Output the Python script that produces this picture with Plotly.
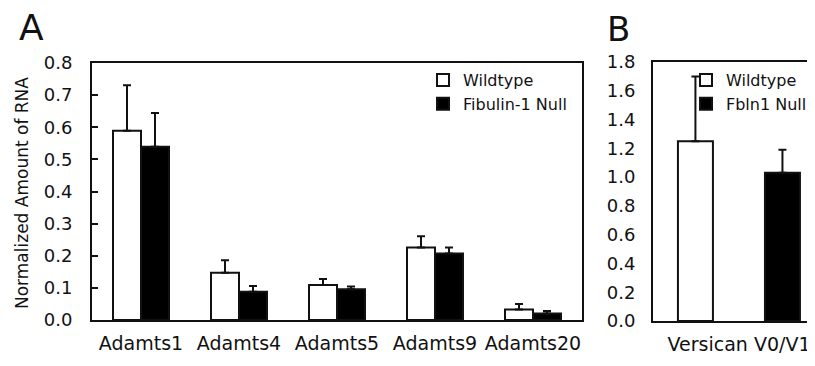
import plotly.graph_objects as go

genes = ["Adamts1", "Adamts4", "Adamts5", "Adamts9", "Adamts20"]
wt_vals = [0.589, 0.147, 0.109, 0.226, 0.033]
wt_err = [0.142, 0.039, 0.019, 0.035, 0.017]
null_vals = [0.539, 0.088, 0.096, 0.207, 0.020]
null_err = [0.105, 0.018, 0.008, 0.019, 0.008]

vers_cat = ["Versican V0/V1"]
vers_wt = [1.25]
vers_wt_err = [0.45]
vers_null = [1.03]
vers_null_err = [0.16]

yticks_a = [0.0, 0.1, 0.2, 0.3, 0.4, 0.5, 0.6, 0.7, 0.8]
yticks_b = [0.0, 0.2, 0.4, 0.6, 0.8, 1.0, 1.2, 1.4, 1.6, 1.8]

# page body has an 8px margin; size the figure so it ends at the window edge
OFF = 8
W, H = 815 - OFF, 366 - OFF
FONT = "DejaVu Sans"
INK = "#111111"


def px(xp):
    return (xp - OFF) / W


def py(yp):
    return (H - (yp - OFF)) / H


def err(arr):
    return dict(type="data", array=arr, arrayminus=[0] * len(arr), symmetric=False,
                color=INK, thickness=2, width=4)


fig = go.Figure()
fig.add_trace(go.Bar(x=genes, y=wt_vals, name="Wildtype", error_y=err(wt_err),
                     marker=dict(color="white", line=dict(color=INK, width=2)),
                     xaxis="x", yaxis="y", legend="legend"))
fig.add_trace(go.Bar(x=genes, y=null_vals, name="Fibulin-1 Null", error_y=err(null_err),
                     marker=dict(color="black", line=dict(color=INK, width=2)),
                     xaxis="x", yaxis="y", legend="legend"))
fig.add_trace(go.Bar(x=vers_cat, y=vers_wt, name="Wildtype", error_y=err(vers_wt_err),
                     width=0.2035, offset=-0.355,
                     marker=dict(color="white", line=dict(color=INK, width=2)),
                     xaxis="x2", yaxis="y2", legend="legend2"))
fig.add_trace(go.Bar(x=vers_cat, y=vers_null, name="Fbln1 Null", error_y=err(vers_null_err),
                     width=0.2035, offset=0.151,
                     marker=dict(color="black", line=dict(color=INK, width=2)),
                     xaxis="x2", yaxis="y2", legend="legend2"))

axis_common = dict(showline=True, linecolor=INK, linewidth=2, showgrid=False,
                   zeroline=False, automargin=False)

fig.update_layout(
    width=W, height=H, template="none",
    margin=dict(l=0, r=0, t=0, b=0),
    paper_bgcolor="white", plot_bgcolor="white",
    font=dict(family=FONT, color=INK, size=18),
    barmode="group", bargap=0.4286, bargroupgap=0,
    xaxis=dict(domain=[px(92), px(582)], anchor="y", type="category", mirror=True,
               ticks="", tickfont=dict(size=19), ticklabelstandoff=5, **axis_common),
    yaxis=dict(domain=[py(320), py(63)], anchor="x", range=[0, 0.8], tickvals=yticks_a,
               tickformat=".1f", ticks="inside", ticklen=6, tickwidth=2, tickcolor=INK,
               mirror=True, ticklabelstandoff=14, tickfont=dict(size=18), **axis_common),
    xaxis2=dict(domain=[px(653), 1.0], anchor="y2", type="category", mirror=True,
                range=[-0.5, 0.442], ticks="", tickfont=dict(size=19), ticklabelstandoff=5,
                ticklabeloverflow="allow", **axis_common),
    yaxis2=dict(domain=[py(321), py(62)], anchor="x2", range=[0, 1.8], tickvals=yticks_b,
                tickformat=".1f", ticks="", mirror=False, ticklabelstandoff=12,
                tickfont=dict(size=18), **axis_common),
    legend=dict(x=px(423), y=py(63), xanchor="left", yanchor="top",
                bgcolor="rgba(0,0,0,0)", font=dict(size=16), tracegroupgap=0,
                itemclick=False),
    legend2=dict(x=px(686), y=py(63), xanchor="left", yanchor="top",
                 bgcolor="rgba(0,0,0,0)", font=dict(size=16), tracegroupgap=0,
                 itemclick=False),
    annotations=[
        dict(text="Normalized Amount of RNA", x=px(22), y=py(193), xref="paper", yref="paper",
             textangle=-90, showarrow=False, font=dict(size=17), xanchor="center",
             yanchor="middle"),
        dict(text="A", x=px(31), y=py(27), xref="paper", yref="paper", showarrow=False,
             font=dict(size=36), height=30, xanchor="center", yanchor="middle"),
        dict(text="B", x=px(618), y=py(29), xref="paper", yref="paper", showarrow=False,
             font=dict(size=34), height=30, xanchor="center", yanchor="middle"),
    ],
)

fig.write_html("out.html")
